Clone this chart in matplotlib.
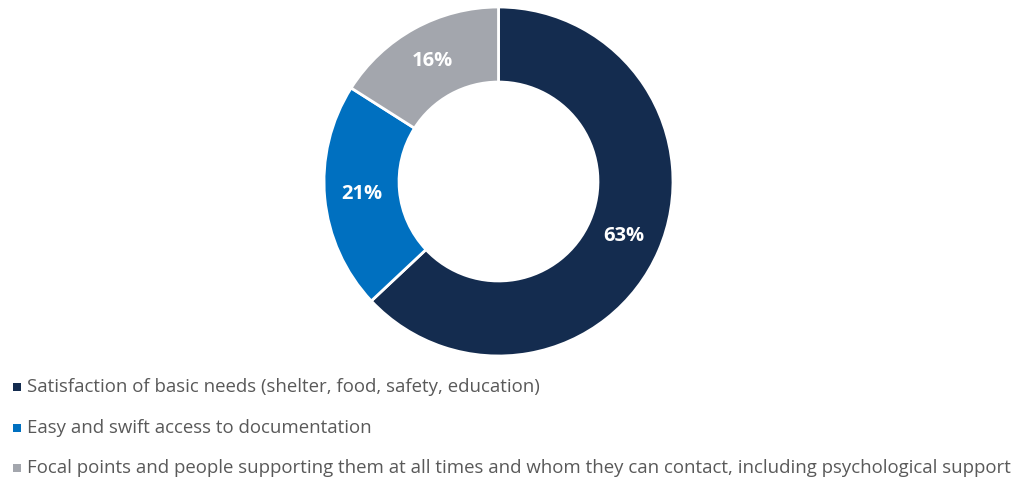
import matplotlib
matplotlib.use("Agg")
import matplotlib.pyplot as plt

categories = [
    "Satisfaction of basic needs (shelter, food, safety, education)",
    "Easy and swift access to documentation",
    "Focal points and people supporting them at all times and whom they can contact, including psychological support",
]
values = [63, 21, 16]
colors = ["#142C4F", "#0070C0", "#A3A6AD"]

W, H = 1013, 479
fig = plt.figure(figsize=(W / 100, H / 100), dpi=100)
fig.patch.set_facecolor("white")

# donut centred at (498.5, 181.5) px with outer radius 174.5 px
cx, cy, r = 498.5, 181.5, 174.5
ax = fig.add_axes([(cx - r) / W, (H - cy - r) / H, 2 * r / W, 2 * r / H])
wedges, texts, autotexts = ax.pie(
    values,
    colors=colors,
    startangle=90,
    counterclock=False,
    radius=1,
    autopct=lambda p: f"{p:.0f}%",
    pctdistance=0.785,
    wedgeprops=dict(width=0.43, edgecolor="white", linewidth=2.0),
    textprops=dict(color="white", fontsize=14.5, fontweight="bold", family="Open Sans"),
)
ax.set_xlim(-1, 1)
ax.set_ylim(-1, 1)
ax.set_aspect("equal")
ax.axis("off")

# legend rows below the ring
row_y = [386.5, 428, 468]
text_x = 27
fs = 13
renderer = fig.canvas.get_renderer()
t = fig.text(0, 0, categories[2], fontsize=fs, family="Open Sans")
w = t.get_window_extent(renderer).width
t.remove()
fs = fs * 981 / w

msize = 8
for label, col, y in zip(categories, colors, row_y):
    fig.text(text_x / W, 1 - y / H, label, fontsize=fs, family="Open Sans",
             color="#595959", ha="left", va="center")
    fig.patches.append(plt.Rectangle((13 / W, 1 - (y + msize / 2) / H), msize / W, msize / H,
                                     transform=fig.transFigure, facecolor=col,
                                     edgecolor="none", figure=fig))

fig.savefig("out.png", dpi=100, facecolor="white")
